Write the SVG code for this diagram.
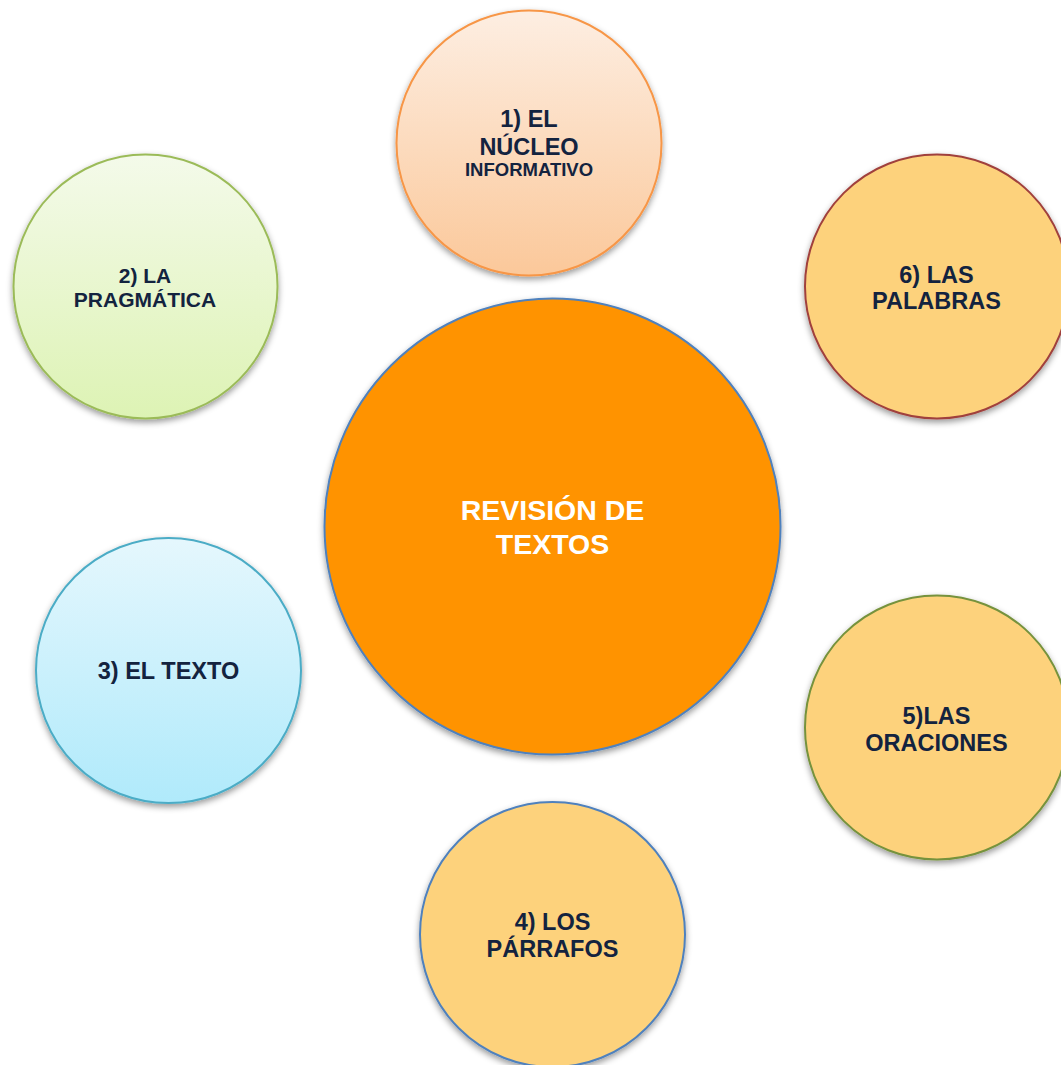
<svg xmlns="http://www.w3.org/2000/svg" width="1061" height="1065" viewBox="0 0 1061 1065">
  <style>
    .lbl { font-family: "Liberation Sans", Arial, sans-serif; font-weight: bold; fill: #13233F; text-anchor: middle; }
    .s235 { font-size: 23.5px; }
    .s21 { font-size: 21px; }
    .s185 { font-size: 18.5px; }
    .hub { font-family: "Liberation Sans", Arial, sans-serif; font-weight: bold; fill: #FFFFFF; text-anchor: middle; font-size: 28.5px; }
    .bubble { stroke-width: 2; filter: url(#shadow); }
  </style>
  <defs>
    <filter id="shadow" x="-20%" y="-20%" width="140%" height="150%">
      <feDropShadow dx="0" dy="3" stdDeviation="3" flood-color="#000000" flood-opacity="0.4"/>
    </filter>
    <linearGradient id="gPeach" x1="0" y1="0" x2="0" y2="1">
      <stop offset="0" stop-color="#FDEEE2"/>
      <stop offset="1" stop-color="#FBC89A"/>
    </linearGradient>
    <linearGradient id="gGreen" x1="0" y1="0" x2="0" y2="1">
      <stop offset="0" stop-color="#F4FAEA"/>
      <stop offset="1" stop-color="#DDF3B4"/>
    </linearGradient>
    <linearGradient id="gBlue" x1="0" y1="0" x2="0" y2="1">
      <stop offset="0" stop-color="#E5F7FD"/>
      <stop offset="1" stop-color="#B0EAFB"/>
    </linearGradient>
  </defs>

  <!-- central topic -->
  <g id="node-revision">
    <circle class="bubble" cx="552.5" cy="526.5" r="228" fill="#FF9300" stroke="#4F81BD"/>
    <text class="hub" x="552.5" y="520">REVISIÓN DE</text>
    <text class="hub" x="552.5" y="554">TEXTOS</text>
  </g>

  <g id="node-nucleo">
    <circle class="bubble" cx="529" cy="143" r="132.5" fill="url(#gPeach)" stroke="#F79646"/>
    <text class="lbl s235" x="529" y="127">1) EL</text>
    <text class="lbl s235" x="529" y="155">NÚCLEO</text>
    <text class="lbl s185" x="529" y="176">INFORMATIVO</text>
  </g>

  <g id="node-pragmatica">
    <circle class="bubble" cx="145.5" cy="286.5" r="132" fill="url(#gGreen)" stroke="#9BBB59"/>
    <text class="lbl s21" x="145" y="283">2) LA</text>
    <text class="lbl s21" x="145" y="307">PRAGMÁTICA</text>
  </g>

  <g id="node-texto">
    <circle class="bubble" cx="168.5" cy="670.5" r="132.5" fill="url(#gBlue)" stroke="#4BACC6"/>
    <text class="lbl s235" x="168.5" y="679">3) EL TEXTO</text>
  </g>

  <g id="node-parrafos">
    <circle class="bubble" cx="552.5" cy="934.5" r="132.5" fill="#FDD27C" stroke="#4F81BD"/>
    <text class="lbl s235" x="552.5" y="930">4) LOS</text>
    <text class="lbl s235" x="552.5" y="957">PÁRRAFOS</text>
  </g>

  <g id="node-oraciones">
    <circle class="bubble" cx="937" cy="727.5" r="132" fill="#FDD27C" stroke="#76923C"/>
    <text class="lbl s235" x="936.5" y="724">5)LAS</text>
    <text class="lbl s235" x="936.5" y="751">ORACIONES</text>
  </g>

  <g id="node-palabras">
    <circle class="bubble" cx="937" cy="286.5" r="132" fill="#FDD27C" stroke="#A0413C"/>
    <text class="lbl s235" x="936.5" y="283">6) LAS</text>
    <text class="lbl s235" x="936.5" y="309">PALABRAS</text>
  </g>
</svg>
